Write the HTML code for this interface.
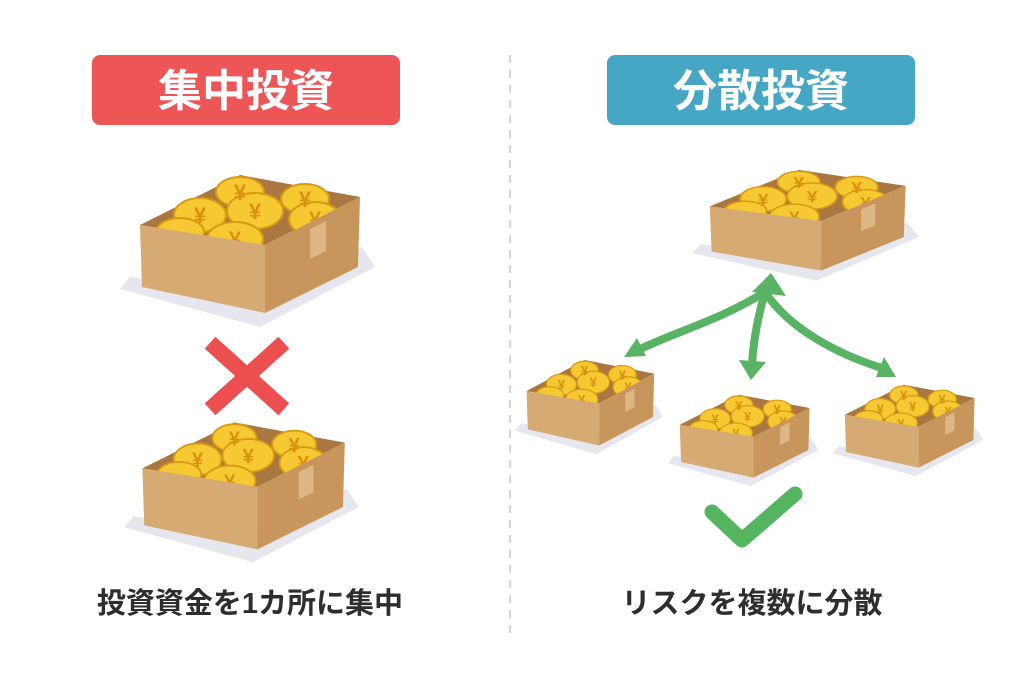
<!DOCTYPE html>
<html><head><meta charset="utf-8"><style>
html,body{margin:0;padding:0;background:#fff;}
svg{display:block;}
</style></head><body>
<svg width="1024" height="683" viewBox="0 0 1024 683" xmlns="http://www.w3.org/2000/svg">
<defs>
<g id="box">
  <polygon points="0,122 140,160 255,100 242,80 150,128 10,110" fill="#e6e7ee"/>
  <polygon points="20,58 120,8 240,30 145,78" fill="#a9773f"/>
  <g stroke="#d79a14" stroke-width="2" fill="#f6c832">
    <ellipse cx="120" cy="25" rx="24" ry="15"/>
    <ellipse cx="185" cy="32" rx="24" ry="15"/>
    <ellipse cx="80" cy="48" rx="26" ry="17"/>
    <ellipse cx="135" cy="44" rx="28" ry="18"/>
    <ellipse cx="195" cy="52" rx="26" ry="17"/>
    <ellipse cx="60" cy="65" rx="24" ry="14"/>
    <ellipse cx="115" cy="72" rx="28" ry="17"/>
  </g>
  <g fill="#d9920f" font-family="Liberation Sans, sans-serif" font-weight="bold" font-size="22" text-anchor="middle">
    <text x="120" y="33">¥</text><text x="185" y="40">¥</text><text x="80" y="56">¥</text>
    <text x="135" y="52">¥</text><text x="195" y="60">¥</text><text x="115" y="80">¥</text>
  </g>
  <polygon points="20,58 145,78 145,146 22,120" fill="#d6aa73"/>
  <polygon points="145,78 240,30 238,100 145,146" fill="#c8965d"/>
  <polygon points="190,62 206,54 206,84 190,92" fill="#dcb683"/>
</g>
</defs>
<rect x="92" y="55" width="308" height="70" rx="8" fill="#ee5557"/>
<text x="246" y="106" fill="#fff" font-family="Liberation Sans, Noto Sans CJK JP, sans-serif" font-weight="bold" font-size="44" text-anchor="middle">集中投資</text>
<rect x="607" y="55" width="308" height="70" rx="8" fill="#46a7c5"/>
<text x="761" y="106" fill="#fff" font-family="Liberation Sans, Noto Sans CJK JP, sans-serif" font-weight="bold" font-size="44" text-anchor="middle">分散投資</text>
<line x1="510" y1="55" x2="510" y2="640" stroke="#d5d5d5" stroke-width="2" stroke-dasharray="8,7"/>

<use href="#box" transform="translate(120,167)"/>
<use href="#box" transform="translate(124,415) scale(0.92)"/>
<use href="#box" transform="translate(692,164) scale(0.89,0.73)"/>
<use href="#box" transform="translate(515,355) scale(0.58,0.62)"/>
<use href="#box" transform="translate(668,390) scale(0.59,0.6)"/>
<use href="#box" transform="translate(833,380) scale(0.59,0.6)"/>

<g stroke="#ec4f4f" stroke-width="16" stroke-linecap="square">
  <line x1="216" y1="348" x2="278" y2="404"/><line x1="278" y1="348" x2="216" y2="404"/>
</g>
<polyline points="712,512 742,540 795,494" fill="none" stroke="#55b460" stroke-width="15" stroke-linecap="round" stroke-linejoin="round"/>

<g fill="none" stroke="#58b464" stroke-width="8" stroke-linecap="round">
  <path d="M765,292 C720,320 680,330 638,350"/>
  <path d="M765,292 C757,320 753,345 752,365"/>
  <path d="M765,292 C790,330 840,355 882,368"/>
</g>
<g fill="#58b464">
  <polygon points="771,273 786,296 752,292"/>
  <polygon points="624,357 637,338 646,356"/>
  <polygon points="751,380 739,360 766,362"/>
  <polygon points="896,377 876,377 884,357"/>
</g>

<text x="250" y="613" fill="#2e2e2e" font-family="Liberation Sans, Noto Sans CJK JP, sans-serif" font-weight="bold" font-size="29" text-anchor="middle">投資資金を1カ所に集中</text>
<text x="752" y="613" fill="#2e2e2e" font-family="Liberation Sans, Noto Sans CJK JP, sans-serif" font-weight="bold" font-size="29" text-anchor="middle">リスクを複数に分散</text>
</svg>
</body></html>
